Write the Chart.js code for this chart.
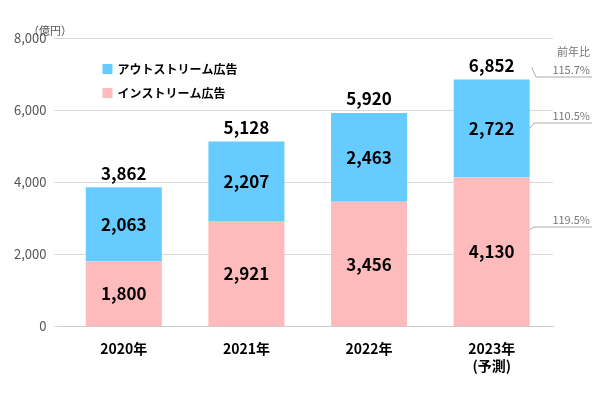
<!DOCTYPE html>
<html><head><meta charset="utf-8">
<script src="https://cdn.jsdelivr.net/npm/chart.js@4"></script>
<style>body{margin:0;background:#fff}#w{width:600px;height:400px}</style>
</head><body><div id="w"><canvas id="c"></canvas></div>
<script>
const categories = [["2020年"],["2021年"],["2022年"],["2023年","(予測)"]];
const instream = [1800, 2921, 3456, 4130];
const outstream = [2063, 2207, 2463, 2722];
const totals = [3862, 5128, 5920, 6852];
const yoy = ["115.7%","110.5%","119.5%"];
const yTicks = [0,2000,4000,6000,8000];
const F = "'Noto Sans CJK JP', 'Noto Sans', sans-serif";
const fmt = v => v.toLocaleString('en-US');

const labels = {
  id:'labels',
  afterDatasetsDraw(ch){
    const c=ch.ctx, x=ch.scales.x, y=ch.scales.y, a=ch.chartArea;
    c.save();
    c.textAlign='center'; c.textBaseline='middle';
    c.font='bold 17px '+F; c.fillStyle='#000';
    categories.forEach((_,i)=>{
      const cx=x.getPixelForValue(i);
      c.fillText(fmt(instream[i]), cx, (y.getPixelForValue(0)+y.getPixelForValue(instream[i]))/2);
      c.fillText(fmt(outstream[i]), cx, (y.getPixelForValue(instream[i])+y.getPixelForValue(totals[i]))/2);
      c.fillText(fmt(totals[i]), cx, y.getPixelForValue(totals[i])-14);
    });
    // unit
    c.font='11px '+F; c.fillStyle='#555'; c.textAlign='left';
    c.fillText('（億円）', 28, 31);
    // legend
    c.font='bold 12px '+F; c.fillStyle='#000';
    const lx=a.left+40;
    c.fillStyle='#66CCFF'; c.fillRect(lx,64,10,10);
    c.fillStyle='#FFBBBB'; c.fillRect(lx,88,10,10);
    c.fillStyle='#000';
    c.fillText('アウトストリーム広告', lx+15, 69);
    c.fillText('インストリーム広告', lx+15, 93);
    // yoy
    const i=3, bx=x.getPixelForValue(i)+38;
    c.font='11px '+F; c.fillStyle='#777'; c.textAlign='right';
    c.fillText('前年比', 590, 52);
    c.strokeStyle='#aaa'; c.lineWidth=1;
    const pts=[
      [x.getPixelForValue(i)+40, y.getPixelForValue(totals[i])-12, 550, 72, yoy[0]],
      [x.getPixelForValue(i)+38, (y.getPixelForValue(instream[i])+y.getPixelForValue(totals[i]))/2, 548, 118, yoy[1]],
      [bx, y.getPixelForValue(instream[i])+52, 548, 222, yoy[2]]
    ];
    pts.forEach(p=>{
      c.beginPath(); c.moveTo(p[0],p[1]); c.lineTo(p[2]-14,p[3]+5); c.lineTo(592,p[3]+5); c.stroke();
      c.fillText(p[4], 590, p[3]-2);
    });
    c.restore();
  }
};

new Chart(document.getElementById('c'),{
  type:'bar',
  data:{labels:categories,datasets:[
    {label:'インストリーム広告',data:instream,backgroundColor:'#FFBBBB',categoryPercentage:1,barPercentage:0.62},
    {label:'アウトストリーム広告',data:outstream,backgroundColor:'#66CCFF',categoryPercentage:1,barPercentage:0.62}
  ]},
  options:{
    responsive:true,maintainAspectRatio:false,animation:false,
    layout:{padding:{top:38,right:47,left:6,bottom:20}},
    plugins:{legend:{display:false},tooltip:{enabled:false}},
    scales:{
      x:{stacked:true,grid:{display:false},border:{color:'#ccc'},
         ticks:{font:{family:F,size:14,weight:'bold'},color:'#000',padding:6}},
      y:{stacked:true,min:0,max:8000,afterBuildTicks:s=>{s.ticks=yTicks.map(v=>({value:v}));},
         grid:{color:'#d9d9d9'},border:{display:false},
         ticks:{font:{family:F,size:13},color:'#555',callback:v=>fmt(v),padding:8}}
    }
  },
  plugins:[labels]
});
</script></body></html>
